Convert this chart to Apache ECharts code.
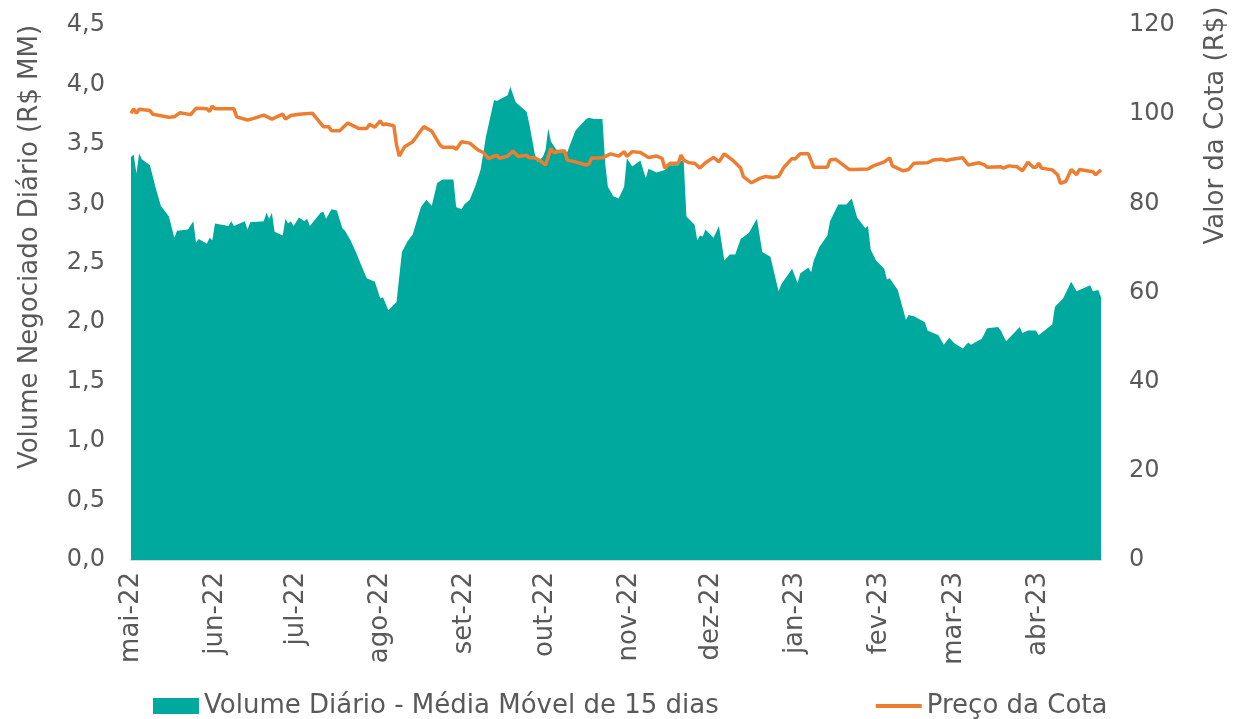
<!DOCTYPE html>
<html>
<head>
<meta charset="utf-8">
<script src="https://cdn.jsdelivr.net/npm/echarts@6/dist/echarts.min.js"></script>
<style>
html,body{margin:0;padding:0;background:#fff;}
#chart{width:1237px;height:719px;}
</style>
</head>
<body>
<div id="chart"></div>
<script>
// volume: 15-day moving average (R$ MM)
const volumeDates = [
  '2022-05-01','2022-05-02','2022-05-03','2022-05-04','2022-05-05','2022-05-08','2022-05-10','2022-05-12','2022-05-15','2022-05-17',
  '2022-05-18','2022-05-22','2022-05-24','2022-05-25','2022-05-26','2022-05-29','2022-05-30','2022-05-31','2022-06-01','2022-06-06',
  '2022-06-07','2022-06-08','2022-06-12','2022-06-13','2022-06-14','2022-06-19','2022-06-20','2022-06-21','2022-06-22','2022-06-23',
  '2022-06-26','2022-06-27','2022-06-28','2022-06-29','2022-06-30','2022-07-02','2022-07-04','2022-07-05','2022-07-06','2022-07-10',
  '2022-07-11','2022-07-12','2022-07-14','2022-07-16','2022-07-18','2022-07-19','2022-07-21','2022-07-23','2022-07-25','2022-07-27',
  '2022-07-30','2022-08-01','2022-08-02','2022-08-04','2022-08-07','2022-08-08','2022-08-09','2022-08-11','2022-08-13','2022-08-16',
  '2022-08-18','2022-08-20','2022-08-22','2022-08-24','2022-08-27','2022-08-28','2022-08-29','2022-08-31','2022-09-01','2022-09-03',
  '2022-09-05','2022-09-07','2022-09-09','2022-09-12','2022-09-13','2022-09-17','2022-09-18','2022-09-20','2022-09-24','2022-09-25',
  '2022-09-27','2022-09-28','2022-09-30','2022-10-01','2022-10-02','2022-10-03','2022-10-05','2022-10-07','2022-10-09','2022-10-12',
  '2022-10-14','2022-10-16','2022-10-17','2022-10-19','2022-10-22','2022-10-23','2022-10-24','2022-10-26','2022-10-28','2022-10-30',
  '2022-10-31','2022-11-02','2022-11-05','2022-11-07','2022-11-08','2022-11-11','2022-11-14','2022-11-16','2022-11-19','2022-11-20',
  '2022-11-21','2022-11-22','2022-11-25','2022-11-26','2022-11-27','2022-11-28','2022-11-29','2022-12-02','2022-12-04','2022-12-06',
  '2022-12-08','2022-12-10','2022-12-12','2022-12-15','2022-12-18','2022-12-20','2022-12-23','2022-12-26','2022-12-27','2022-12-31',
  '2023-01-02','2023-01-03','2023-01-06','2023-01-07','2023-01-08','2023-01-10','2023-01-13','2023-01-14','2023-01-17','2023-01-20',
  '2023-01-22','2023-01-24','2023-01-27','2023-01-28','2023-01-29','2023-01-31','2023-02-03','2023-02-04','2023-02-05','2023-02-08',
  '2023-02-11','2023-02-12','2023-02-14','2023-02-18','2023-02-19','2023-02-23','2023-02-25','2023-02-27','2023-03-01','2023-03-04',
  '2023-03-06','2023-03-07','2023-03-11','2023-03-13','2023-03-17','2023-03-18','2023-03-20','2023-03-25','2023-03-26','2023-03-28',
  '2023-03-31','2023-04-01','2023-04-02','2023-04-06','2023-04-07','2023-04-10','2023-04-13','2023-04-15','2023-04-20','2023-04-21',
  '2023-04-23','2023-04-24'
];
const volumeValues = [
  3.39,3.41,3.25,3.42,3.37,3.32,3.14,2.98,2.89,2.71,
  2.77,2.78,2.85,2.67,2.70,2.66,2.71,2.69,2.83,2.81,
  2.85,2.81,2.85,2.78,2.84,2.85,2.92,2.87,2.92,2.76,
  2.73,2.87,2.83,2.85,2.81,2.88,2.85,2.87,2.81,2.92,
  2.93,2.87,2.95,2.94,2.79,2.77,2.69,2.59,2.48,2.37,
  2.34,2.20,2.21,2.10,2.17,2.38,2.59,2.68,2.74,2.97,
  3.03,2.98,3.17,3.20,3.20,3.20,2.97,2.95,2.99,3.03,
  3.14,3.28,3.56,3.87,3.86,3.91,3.98,3.85,3.77,3.67,
  3.42,3.35,3.39,3.45,3.63,3.52,3.45,3.45,3.43,3.61,
  3.66,3.71,3.72,3.71,3.71,3.34,3.14,3.06,3.04,3.14,
  3.38,3.31,3.36,3.21,3.29,3.26,3.28,3.32,3.32,3.36,
  3.35,2.89,2.82,2.69,2.73,2.72,2.78,2.71,2.81,2.52,
  2.57,2.57,2.70,2.75,2.87,2.59,2.55,2.26,2.32,2.45,
  2.33,2.41,2.46,2.42,2.52,2.63,2.73,2.85,2.99,2.99,
  3.04,2.88,2.79,2.81,2.61,2.52,2.45,2.36,2.37,2.27,
  2.02,2.06,2.05,2.00,1.93,1.89,1.81,1.87,1.82,1.78,
  1.83,1.81,1.86,1.95,1.96,1.93,1.84,1.96,1.91,1.93,
  1.93,1.89,1.91,1.98,2.13,2.20,2.34,2.26,2.31,2.26,
  2.27,2.21
];

// price of the share (R$)
const priceDates = [
  '2022-05-01','2022-05-02','2022-05-03','2022-05-04','2022-05-08','2022-05-09','2022-05-15','2022-05-17','2022-05-19','2022-05-23',
  '2022-05-25','2022-05-29','2022-05-30','2022-05-31','2022-06-01','2022-06-08','2022-06-09','2022-06-13','2022-06-15','2022-06-19',
  '2022-06-22','2022-06-26','2022-06-27','2022-06-29','2022-07-02','2022-07-07','2022-07-11','2022-07-13','2022-07-14','2022-07-17',
  '2022-07-20','2022-07-24','2022-07-27','2022-07-28','2022-07-30','2022-08-01','2022-08-02','2022-08-03','2022-08-06','2022-08-07',
  '2022-08-08','2022-08-10','2022-08-13','2022-08-17','2022-08-20','2022-08-23','2022-08-24','2022-08-28','2022-08-29','2022-08-31',
  '2022-09-03','2022-09-06','2022-09-08','2022-09-10','2022-09-12','2022-09-13','2022-09-14','2022-09-17','2022-09-19','2022-09-21',
  '2022-09-24','2022-09-25','2022-09-27','2022-09-29','2022-10-01','2022-10-03','2022-10-04','2022-10-08','2022-10-09','2022-10-12',
  '2022-10-16','2022-10-17','2022-10-18','2022-10-22','2022-10-25','2022-10-28','2022-10-30','2022-10-31','2022-11-02','2022-11-05',
  '2022-11-08','2022-11-11','2022-11-13','2022-11-14','2022-11-16','2022-11-19','2022-11-20','2022-11-21','2022-11-23','2022-11-25',
  '2022-11-27','2022-11-29','2022-12-02','2022-12-04','2022-12-06','2022-12-09','2022-12-12','2022-12-13','2022-12-16','2022-12-19',
  '2022-12-21','2022-12-24','2022-12-26','2022-12-28','2022-12-31','2023-01-01','2023-01-03','2023-01-06','2023-01-08','2023-01-13',
  '2023-01-14','2023-01-16','2023-01-21','2023-01-23','2023-01-28','2023-01-30','2023-02-03','2023-02-05','2023-02-06','2023-02-10',
  '2023-02-12','2023-02-14','2023-02-19','2023-02-21','2023-02-24','2023-02-26','2023-02-28','2023-03-04','2023-03-06','2023-03-10',
  '2023-03-12','2023-03-13','2023-03-18','2023-03-19','2023-03-21','2023-03-24','2023-03-26','2023-03-28','2023-03-30','2023-03-31',
  '2023-04-01','2023-04-02','2023-04-06','2023-04-08','2023-04-09','2023-04-11','2023-04-13','2023-04-15','2023-04-16','2023-04-21',
  '2023-04-22','2023-04-24'
];
const priceValues = [
  100.2,101.2,100.2,101.1,100.8,100.0,99.3,99.4,100.3,99.9,
  101.3,101.2,100.6,101.8,101.2,101.2,99.4,98.7,99.0,99.8,
  98.9,100.0,98.9,99.7,100.0,100.2,97.2,97.2,96.3,96.3,
  98.0,96.8,96.8,97.7,97.1,98.5,97.6,97.8,97.4,93.1,
  90.6,92.7,93.8,97.2,96.2,93.1,92.6,92.6,92.1,93.8,
  93.5,92.0,91.4,90.0,90.6,90.8,90.1,90.6,91.7,90.5,
  90.8,90.2,90.2,89.6,88.6,92.3,91.4,91.8,89.7,89.3,
  88.6,88.8,90.1,90.2,91.1,90.6,91.6,90.5,91.6,91.4,
  90.3,90.6,90.1,87.9,89.0,89.0,90.8,89.7,89.1,89.0,
  87.9,89.1,90.3,89.3,91.1,89.7,87.9,86.0,84.6,85.6,
  86.0,85.8,86.0,88.1,90.1,89.9,91.1,91.1,88.1,88.1,
  89.7,89.9,87.6,87.6,87.7,88.4,89.3,90.2,88.4,87.3,
  87.6,89.0,89.1,89.7,89.9,89.6,89.9,90.2,88.6,89.1,
  88.6,88.1,88.2,87.9,88.4,88.2,87.3,89.2,88.1,88.1,
  89.0,87.9,87.5,86.4,84.5,84.9,87.6,86.4,87.6,87.1,
  86.4,87.5
];

const monthNames = ['jan','fev','mar','abr','mai','jun','jul','ago','set','out','nov','dez'];
const leftTicks = [0, 0.5, 1, 1.5, 2, 2.5, 3, 3.5, 4, 4.5];
const rightTicks = [0, 20, 40, 60, 80, 100, 120];

const volumeName = 'Volume Diário - Média Móvel de 15 dias';
const priceName = 'Preço da Cota';

const font = 'DejaVu Sans';
const labelColor = '#595959';

let chart = echarts.init(document.getElementById('chart'));

let option = {
  animation: false,
  textStyle: { fontFamily: font },
  grid: { left: 131, right: 132, top: 25, bottom: 159 },
  legend: {
    top: 688,
    left: 148,
    itemWidth: 46,
    itemHeight: 16,
    itemGap: 155,
    textStyle: { fontFamily: font, fontSize: 26, color: labelColor },
    data: [
      { name: volumeName, icon: 'rect' },
      { name: priceName, itemStyle: { opacity: 0 }, lineStyle: { width: 4 } }
    ]
  },
  xAxis: {
    type: 'time',
    min: '2022-05-01',
    max: '2023-04-24',
    splitNumber: 12,
    axisLine: { lineStyle: { color: '#d9d9d9', width: 2 } },
    axisTick: { show: false },
    splitLine: { show: false },
    axisLabel: {
      rotate: 90,
      margin: 12,
      fontSize: 26,
      color: labelColor,
      fontFamily: font,
      formatter: function (val) {
        let d = new Date(val);
        return monthNames[d.getMonth()] + '-' + String(d.getFullYear()).slice(2);
      }
    }
  },
  yAxis: [
    {
      type: 'value',
      min: leftTicks[0],
      max: leftTicks[leftTicks.length - 1],
      interval: 0.5,
      name: 'Volume Negociado Diário (R$ MM)',
      nameLocation: 'middle',
      nameRotate: 90,
      nameGap: 88,
      nameTextStyle: { fontSize: 26, color: labelColor, fontFamily: font, padding: [0, 0, 0, 91] },
      axisLine: { show: false },
      axisTick: { show: false },
      splitLine: { show: false },
      axisLabel: {
        margin: 26,
        fontSize: 24,
        color: labelColor,
        fontFamily: font,
        formatter: v => v.toFixed(1).replace('.', ',')
      }
    },
    {
      type: 'value',
      min: rightTicks[0],
      max: rightTicks[rightTicks.length - 1],
      interval: 20,
      name: 'Valor da Cota (R$)',
      nameLocation: 'middle',
      nameRotate: 90,
      nameGap: 102,
      nameTextStyle: { fontSize: 26, color: labelColor, fontFamily: font, padding: [0, 0, 0, 334] },
      axisLine: { show: false },
      axisTick: { show: false },
      splitLine: { show: false },
      axisLabel: { margin: 28, fontSize: 24, color: labelColor, fontFamily: font }
    }
  ],
  series: [
    {
      name: volumeName,
      type: 'line',
      yAxisIndex: 0,
      symbol: 'none',
      lineStyle: { width: 0 },
      itemStyle: { color: '#00a99d' },
      areaStyle: { color: '#00a99d', opacity: 1 },
      data: volumeDates.map((d, i) => [d, volumeValues[i]])
    },
    {
      name: priceName,
      type: 'line',
      yAxisIndex: 1,
      symbol: 'none',
      lineStyle: { width: 3.5, color: '#ed7d31' },
      itemStyle: { color: '#ed7d31' },
      data: priceDates.map((d, i) => [d, priceValues[i]])
    }
  ]
};

chart.setOption(option);
</script>
</body>
</html>
